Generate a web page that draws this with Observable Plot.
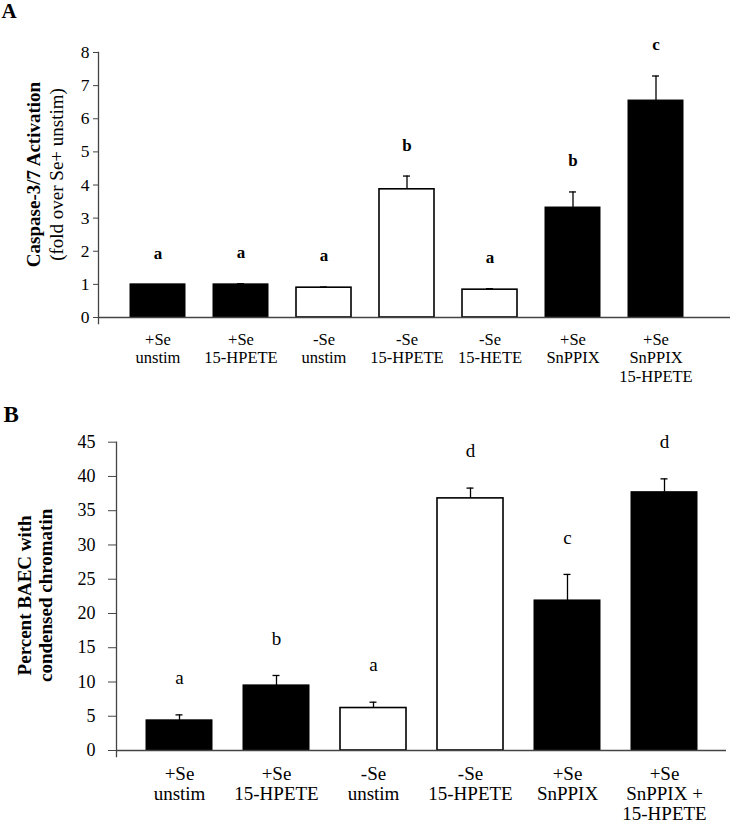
<!DOCTYPE html>
<html><head><meta charset="utf-8">
<script src="https://cdn.jsdelivr.net/npm/d3@7"></script>
<script src="https://cdn.jsdelivr.net/npm/@observablehq/plot@0.6"></script>
<style>body{margin:0;background:#fff} svg{display:block}</style>
</head><body><div id="chart"></div>
<script>
// Panel A data
const catsA = ["+Se\nunstim","+Se\n15-HPETE","-Se\nunstim","-Se\n15-HPETE","-Se\n15-HETE","+Se\nSnPPIX","+Se\nSnPPIX\n15-HPETE"];
const meanA = [1.0, 1.0, 0.9, 3.87, 0.84, 3.32, 6.55];
const errA  = [0.0, 0.02, 0.02, 0.40, 0.03, 0.47, 0.74];
const letA  = ["a","a","a","b","a","b","c"];
const ticksA = [0,1,2,3,4,5,6,7,8];
// Panel B data
const catsB = ["+Se\nunstim","+Se\n15-HPETE","-Se\nunstim","-Se\n15-HPETE","+Se\nSnPPIX","+Se\nSnPPIX +\n15-HPETE"];
const meanB = [4.4, 9.5, 6.2, 36.8, 21.9, 37.7];
const errB  = [0.8, 1.45, 0.85, 1.5, 3.8, 1.95];
const letB  = ["a","b","a","d","c","d"];
const ticksB = [0,5,10,15,20,25,30,35,40,45];

function panel(o) {
  const data = o.cats.map((c, i) => ({c, m: o.mean[i], e: o.mean[i] + o.err[i], l: o.lets[i], plus: c.startsWith("+")}));
  const cap = (o.bw - o.capW) / 2;
  return Plot.plot({
    width: 732, height: o.height,
    marginLeft: o.ml, marginRight: o.mr, marginTop: o.mt, marginBottom: o.mb,
    style: {fontFamily: "'Liberation Serif', serif", background: "white", color: "black"},
    x: {domain: o.cats, range: o.range, paddingInner: o.pad, paddingOuter: 0},
    y: {domain: o.domain},
    marks: [
      Plot.barY(data.filter(d => d.plus), {x: "c", y: "m", fill: "black", stroke: "black", strokeWidth: 1}),
      Plot.barY(data.filter(d => !d.plus), {x: "c", y: "m", fill: "white", stroke: "black", strokeWidth: 1.6}),
      Plot.ruleX(data.filter(d => d.e > d.m), {x: "c", y1: "m", y2: "e", stroke: "black", strokeWidth: 1.3}),
      Plot.tickY(data.filter(d => d.e > d.m), {x: "c", y: "e", insetLeft: cap, insetRight: cap, stroke: "black", strokeWidth: 1.3}),
      Plot.text(data, {x: "c", y: "e", text: "l", dy: o.letDy, lineAnchor: "middle", fontSize: o.letSize, fontWeight: o.letWeight, fill: "black"}),
      Plot.ruleY([0], {stroke: "#444", strokeWidth: 1.3}),
      Plot.frame({anchor: "left", stroke: "#444", strokeWidth: 1.3, insetBottom: -6}),
      Plot.axisY({ticks: o.ticks, tickSize: o.tickSize, tickPadding: o.tickPad, fontSize: o.tickFont, stroke: "#444", label: null, fill: "black"}),
      Plot.axisX({tickSize: 0, tickPadding: o.xPad, fontSize: o.xFont, lineHeight: o.xLH, label: null, fill: "black"}),
      ...o.titles.map(t => Plot.text([t.text], {frameAnchor: "left", rotate: -90, dx: t.dx, dy: o.titleDy, lineAnchor: "middle", textAnchor: "middle", fontSize: t.size, fontWeight: t.weight, fill: "black"})),
      Plot.text([o.panel], {frameAnchor: "top-left", dx: o.pdx, dy: o.pdy, textAnchor: "start", lineAnchor: "top", fontSize: o.pSize, fontWeight: "bold", fill: "black"})
    ]
  });
}

const chart = document.getElementById("chart");
chart.append(panel({
  cats: catsA, mean: meanA, err: errA, lets: letA, ticks: ticksA, domain: [0, 8],
  height: 385, ml: 98, mr: 2, mt: 52, mb: 68,
  range: [129, 684], pad: 0.339, bw: 55, capW: 7,
  letDy: -31, letSize: 17, letWeight: "bold",
  tickSize: 5, tickPad: 4, tickFont: 17.5,
  xPad: 14, xFont: 16.5, xLH: 1.12,
  titleDy: -10.5,
  titles: [
    {text: "Caspase-3/7 Activation", dx: -65, size: 19, weight: "bold"},
    {text: "(fold over Se+ unstim)", dx: -42, size: 19, weight: "normal"}
  ],
  panel: "A", pdx: -97, pdy: -49, pSize: 21
}));
chart.append(panel({
  cats: catsB, mean: meanB, err: errB, lets: letB, ticks: ticksB, domain: [0, 45],
  height: 440, ml: 116, mr: 6, mt: 56.7, mb: 75,
  range: [143.3, 700], pad: 0.3146, bw: 67, capW: 8,
  letDy: -37, letSize: 19, letWeight: "normal",
  tickSize: 8, tickPad: 13, tickFont: 18,
  xPad: 15, xFont: 19, xLH: 1.05,
  titleDy: -1,
  titles: [
    {text: "Percent BAEC with", dx: -91.5, size: 19, weight: "bold"},
    {text: "condensed chromatin", dx: -71, size: 19, weight: "bold"}
  ],
  panel: "B", pdx: -113, pdy: -37, pSize: 23
}));
</script>
</body></html>
